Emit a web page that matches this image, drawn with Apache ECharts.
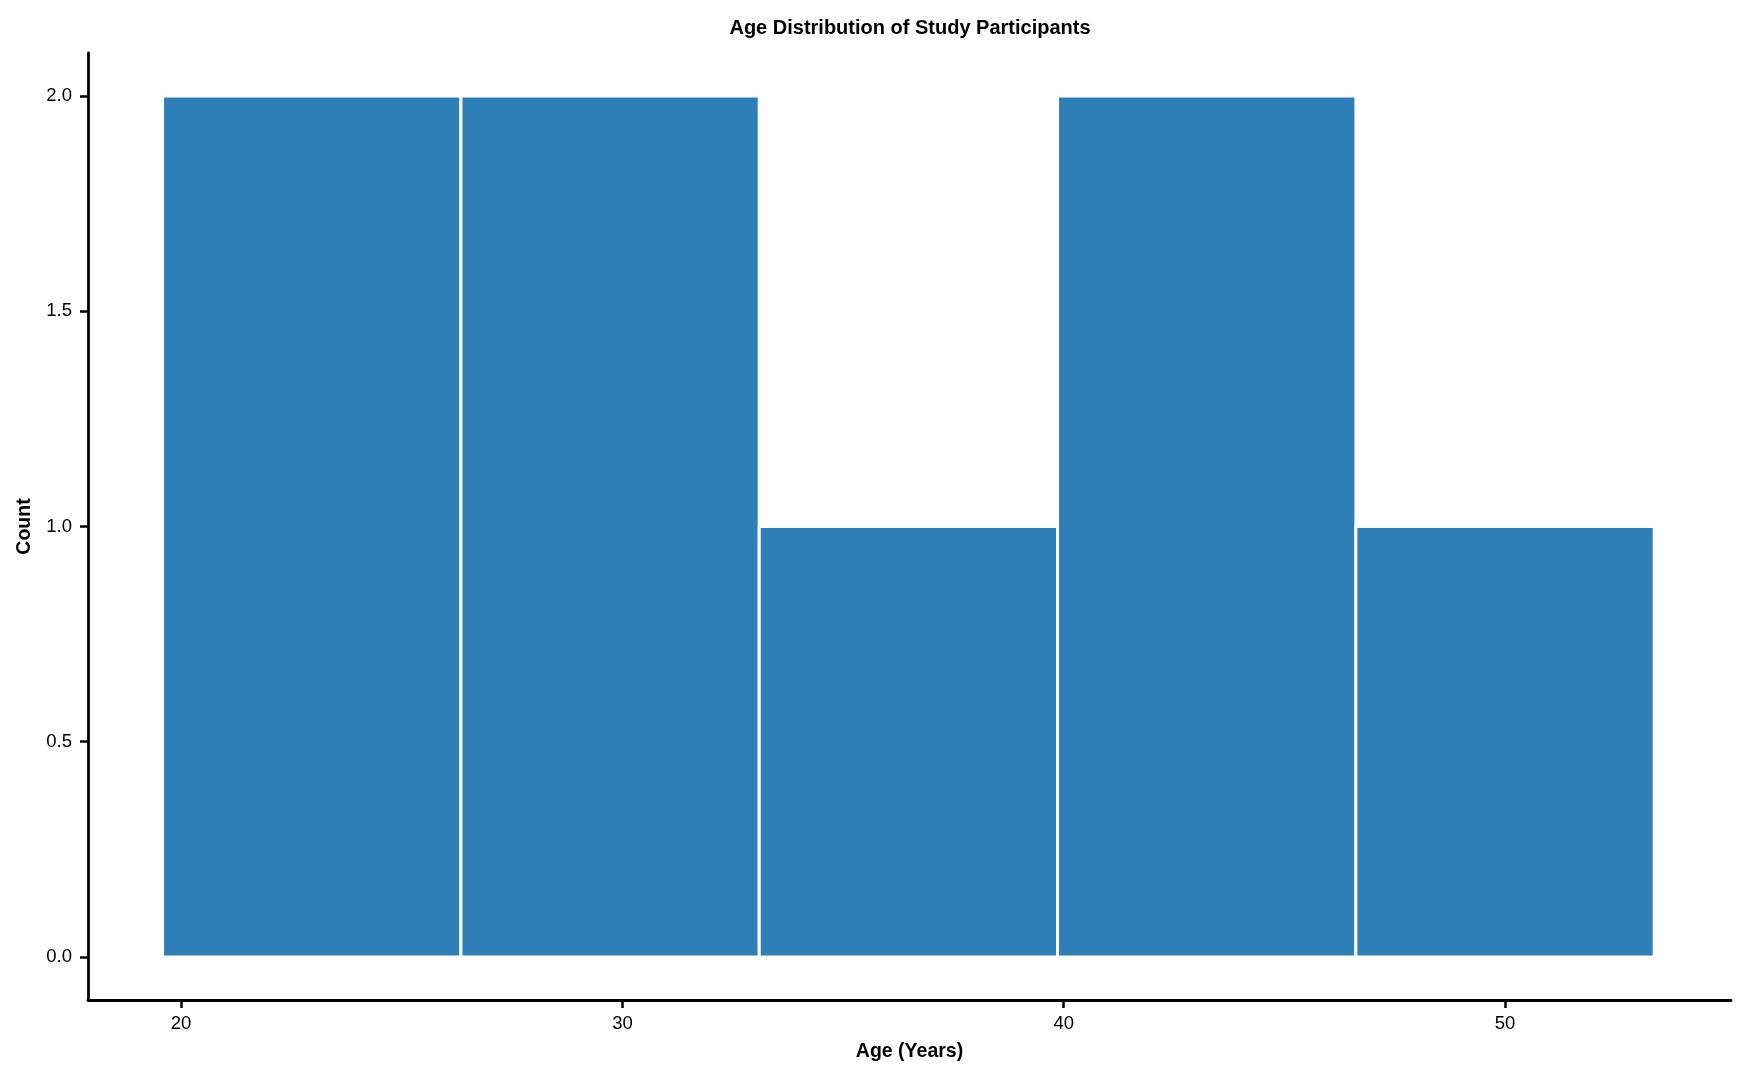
<!DOCTYPE html>
<html>
<head>
<meta charset="utf-8">
<script src="https://cdn.jsdelivr.net/npm/echarts@6/dist/echarts.min.js"></script>
<style>
html,body{margin:0;padding:0;background:#fff;}
#chart{width:1747px;height:1080px;}
</style>
</head>
<body>
<div id="chart"></div>
<script>
// Histogram data
const binEdges = [19.58, 26.34, 33.10, 39.86, 46.62, 53.38];
const counts = [2, 2, 1, 2, 1];
const xTicks = [20, 30, 40, 50];
const yTicks = [0, 0.5, 1.0, 1.5, 2.0];

const titleText = 'Age Distribution of Study Participants';
const xName = 'Age (Years)';
const yName = 'Count';

const bins = counts.map((c, i) => [binEdges[i], binEdges[i + 1], c]);

const FONT = "'Liberation Sans', Arial, sans-serif";
const chart = echarts.init(document.getElementById('chart'), null, {renderer: 'canvas'});

chart.setOption({
  backgroundColor: '#ffffff',
  animation: false,
  title: {
    text: titleText,
    left: 905,
    top: 13,
    textAlign: 'center',
    textStyle: {fontFamily: FONT, fontSize: 20, fontWeight: 'bold', color: '#000'}
  },
  grid: {left: 88, right: 16, top: 53, bottom: 80, containLabel: false},
  xAxis: {
    type: 'value',
    min: 17.89,
    max: 55.12,
    name: xName,
    nameLocation: 'middle',
    nameGap: 42,
    nameTextStyle: {fontFamily: FONT, fontSize: 19.5, fontWeight: 'bold', color: '#000'},
    axisLine: {show: true, onZero: false, lineStyle: {color: '#000', width: 2.8}},
    axisTick: {show: true, length: 8, customValues: xTicks, lineStyle: {color: '#000', width: 2.5}},
    axisLabel: {show: true, margin: 14, customValues: xTicks, fontFamily: FONT, fontSize: 18.5, color: '#000',
      showMinLabel: true, showMaxLabel: true},
    splitLine: {show: false}
  },
  yAxis: {
    type: 'value',
    min: -0.1,
    max: 2.1,
    name: yName,
    nameLocation: 'middle',
    nameGap: 53,
    nameRotate: 90,
    nameTextStyle: {fontFamily: FONT, fontSize: 19.5, fontWeight: 'bold', color: '#000'},
    axisLine: {show: true, onZero: false, lineStyle: {color: '#000', width: 2.8}},
    axisTick: {show: true, length: 8, customValues: yTicks, lineStyle: {color: '#000', width: 2.5}},
    axisLabel: {show: true, margin: 16, customValues: yTicks, fontFamily: FONT, fontSize: 18.5, color: '#000',
      formatter: v => Number(v).toFixed(1)},
    splitLine: {show: false}
  },
  series: [{
    type: 'custom',
    data: bins,
    encode: {x: [0, 1], y: 2},
    clip: false,
    renderItem: function (params, api) {
      const p0 = api.coord([api.value(0), api.value(2)]);
      const p1 = api.coord([api.value(1), 0]);
      return {
        type: 'rect',
        shape: {x: p0[0], y: p0[1], width: p1[0] - p0[0], height: p1[1] - p0[1]},
        style: {fill: '#2e7eb8', stroke: '#ffffff', lineWidth: 3}
      };
    }
  }]
});
</script>
</body>
</html>
